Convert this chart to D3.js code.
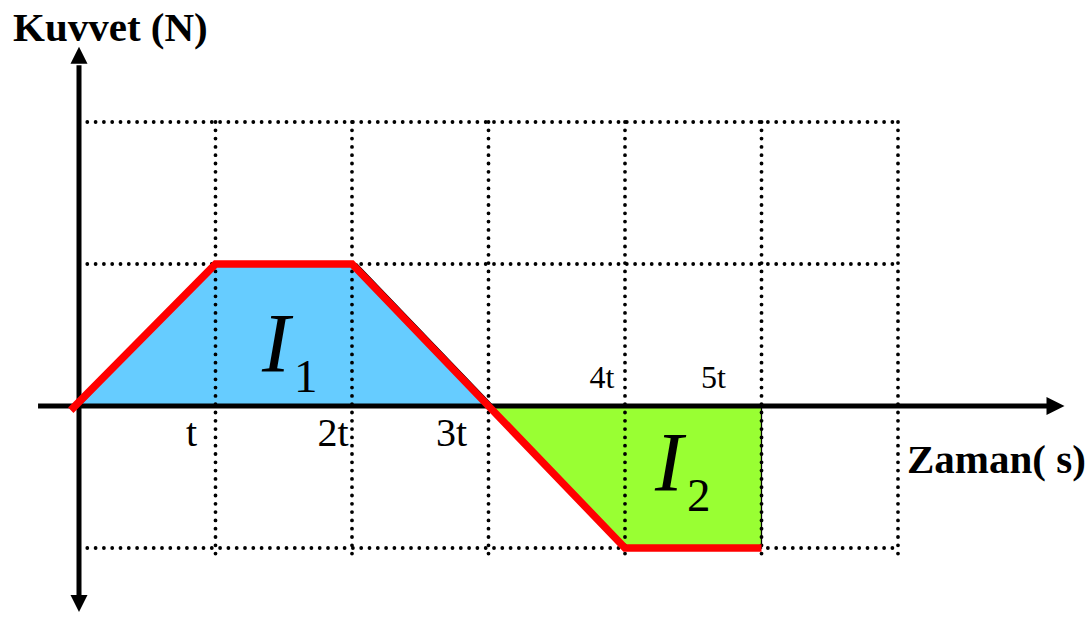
<!DOCTYPE html>
<html>
<head>
<meta charset="utf-8">
<script src="https://cdn.jsdelivr.net/npm/d3@7"></script>
<style>
  html, body { margin: 0; padding: 0; background: #fff; }
  svg { display: block; }
</style>
</head>
<body>
<svg id="chart" width="1090" height="621"></svg>
<script>
// Force–time graph: time in units of t, force in units of F
const gridTimes = [1, 2, 3, 4, 5, 6];
const gridForces = [2, 1, -1];
const forceCurve = [[-0.06, -0.03], [1, 1], [2, 1], [3, 0], [4, -1], [5, -1]];
const impulse1Area = [[0, 0], [1, 1], [2.035, 1], [3.035, 0]];
const impulse2Area = [[3, 0], [4, -1], [5, -1], [5, 0]];
const tickLabelsBelow = ["t", "2t", "3t"];
const tickLabelsAbove = ["4t", "5t"];
const yAxisTitle = "Kuvvet (N)";
const xAxisTitle = "Zaman( s)";

const svg = d3.select("#chart");
const x = d3.scaleLinear().domain([0, 6]).range([79, 898]);
const y = d3.scaleLinear().domain([-1, 2]).range([548, 122]);

const line = d3.line().x(d => x(d[0])).y(d => y(d[1]));
const serif = "'Liberation Serif', 'Times New Roman', serif";

// Shaded impulse areas
svg.append("path").datum(impulse1Area)
  .attr("d", d => line(d) + "Z")
  .attr("fill", "#66CCFF").attr("stroke", "#000").attr("stroke-width", 1.3);
svg.append("path").datum(impulse2Area)
  .attr("d", d => line(d) + "Z")
  .attr("fill", "#99FF33").attr("stroke", "#000").attr("stroke-width", 1.3);

// Dotted grid
const dotted = sel => sel.attr("stroke", "#000").attr("stroke-width", 3.8)
  .attr("stroke-linecap", "round").attr("stroke-dasharray", "0 8.3").attr("fill", "none");
svg.append("g").selectAll("line").data(gridForces).join("line")
  .attr("x1", x(0)).attr("x2", x(6))
  .attr("y1", d => y(d)).attr("y2", d => y(d))
  .call(dotted);
svg.append("g").selectAll("line").data(gridTimes).join("line")
  .attr("x1", d => x(d)).attr("x2", d => x(d))
  .attr("y1", y(2)).attr("y2", y(-1.08))
  .call(dotted);

// Axes with arrowheads
const axes = svg.append("g");
axes.append("line")
  .attr("x1", x(-0.3)).attr("x2", x(7.1)).attr("y1", y(0)).attr("y2", y(0))
  .attr("stroke", "#000").attr("stroke-width", 5);
axes.append("line")
  .attr("x1", x(0)).attr("x2", x(0)).attr("y1", y(2.4)).attr("y2", y(-1.35))
  .attr("stroke", "#000").attr("stroke-width", 5);
const xTip = x(7.22), x0 = x(0), y0 = y(0);
const yTop = y(2.53), yBot = y(-1.45);
axes.append("path")
  .attr("d", `M${xTip},${y0} L${xTip - 18},${y0 - 9} L${xTip - 18},${y0 + 9} Z`)
  .attr("fill", "#000");
axes.append("path")
  .attr("d", `M${x0},${yTop} L${x0 - 8.5},${yTop + 17} L${x0 + 8.5},${yTop + 17} Z`)
  .attr("fill", "#000");
axes.append("path")
  .attr("d", `M${x0},${yBot} L${x0 - 8.5},${yBot - 17} L${x0 + 8.5},${yBot - 17} Z`)
  .attr("fill", "#000");

// Force curve
svg.append("path").datum(forceCurve)
  .attr("d", line)
  .attr("fill", "none").attr("stroke", "#FF0000").attr("stroke-width", 7.5)
  .attr("stroke-linejoin", "miter");

// Time tick labels
const belowNudge = [-24, -19, -37];
svg.append("g").selectAll("text").data(tickLabelsBelow).join("text")
  .attr("x", (d, i) => x(i + 1) + belowNudge[i]).attr("y", y(0) + 40)
  .attr("text-anchor", "middle")
  .attr("font-family", serif).attr("font-size", 40).text(d => d);
const aboveNudge = [-23, -48];
svg.append("g").selectAll("text").data(tickLabelsAbove).join("text")
  .attr("x", (d, i) => x(i + 4) + aboveNudge[i]).attr("y", y(0) - 18)
  .attr("text-anchor", "middle")
  .attr("font-family", serif).attr("font-size", 32).text(d => d);

// Impulse labels
function impulseLabel(tx, fy, sub) {
  const t = svg.append("text").attr("font-family", serif)
    .attr("x", x(tx)).attr("y", y(fy));
  t.append("tspan").attr("font-style", "italic").attr("font-size", 84).text("I");
  t.append("tspan").attr("font-size", 47).attr("dx", 4).attr("dy", 20).text(sub);
}
impulseLabel(1.34, 0.24, "1");
impulseLabel(4.22, -0.6, "2");

// Axis titles
svg.append("text").attr("x", 13).attr("y", 41)
  .attr("font-family", serif).attr("font-weight", "bold").attr("font-size", 41)
  .text(yAxisTitle);
svg.append("text").attr("x", 907).attr("y", 473)
  .attr("font-family", serif).attr("font-weight", "bold").attr("font-size", 41)
  .text(xAxisTitle);
</script>
</body>
</html>
